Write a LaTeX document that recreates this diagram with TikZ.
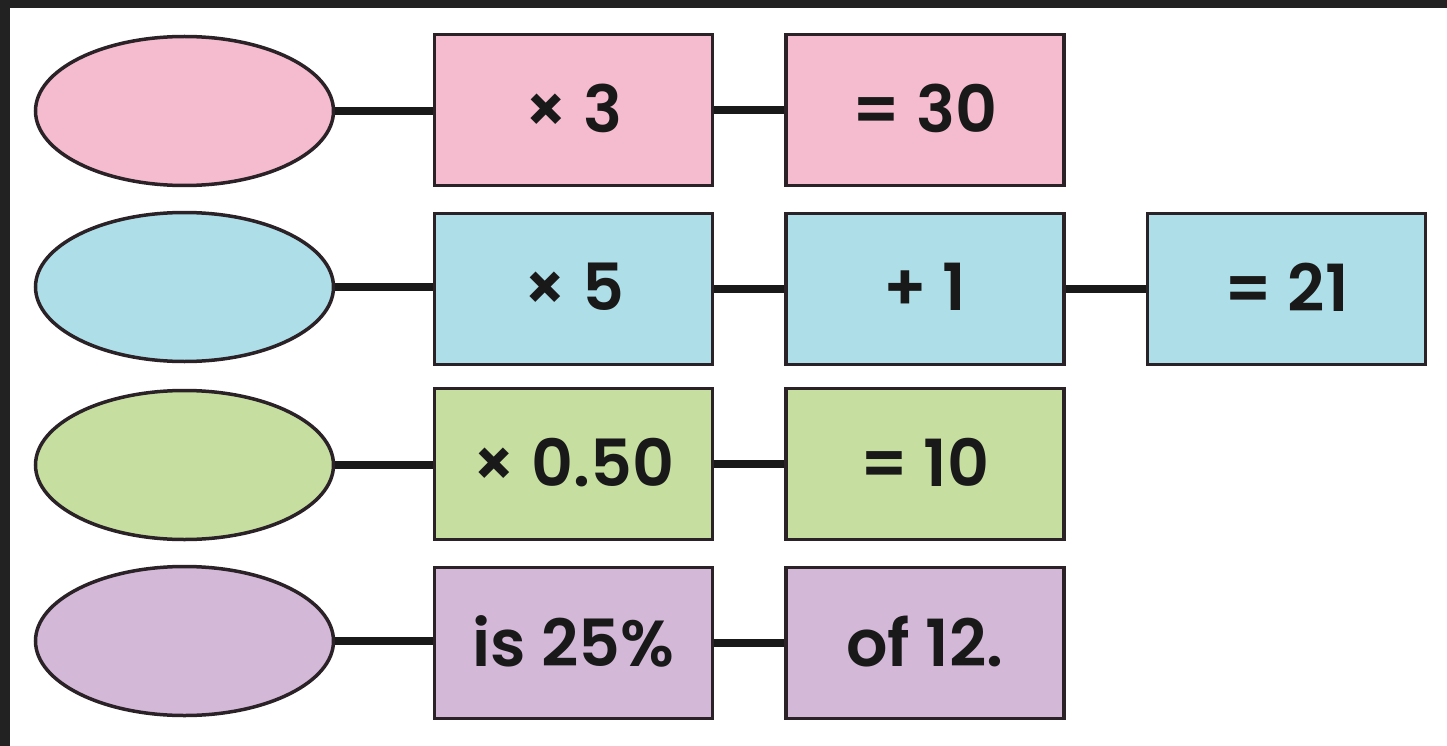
\documentclass[tikz,border=0pt]{standalone}
\usepackage{fontspec}
\setmainfont{Poppins}[BoldFont={Poppins SemiBold}]
\usetikzlibrary{shapes.geometric}
\definecolor{frame}{HTML}{222222}
\definecolor{edge}{HTML}{2B2228}
\definecolor{cpink}{HTML}{F5BBCF}
\definecolor{cblue}{HTML}{AEDFE9}
\definecolor{cgreen}{HTML}{C6DFA0}
\definecolor{cpurple}{HTML}{D3B8D8}
\tikzset{
  oval/.style={ellipse, draw=edge, line width=3.5pt, minimum width=298pt, minimum height=149pt, inner sep=0pt},
  box/.style={rectangle, draw=edge, line width=3.5pt, minimum width=278pt, minimum height=151pt, inner sep=0pt,
    font=\fontsize{65}{72}\selectfont\bfseries, text=black!90, text depth=4pt},
  link/.style={draw=black!90, line width=7.5pt}
}
\begin{document}
\begin{tikzpicture}[x=1pt,y=-1pt]
\useasboundingbox (0,0) rectangle (1447,746);
\fill[white] (0,0) rectangle (1447,746);
\fill[frame] (0,0) rectangle (1447,8);
\fill[frame] (0,0) rectangle (10,746);
% row 1
\node[oval, fill=cpink] (e1) at (184.5,111) {};
\node[box, fill=cpink] (a1) at (573.5,110) {× 3};
\node[box, fill=cpink] (b1) at (925,110) {= 30};
% row 2
\node[oval, fill=cblue] (e2) at (184.5,287) {};
\node[box, fill=cblue] (a2) at (573.5,289) {× 5};
\node[box, fill=cblue] (b2) at (925,289) {+ 1};
\node[box, fill=cblue] (c2) at (1286.5,289) {= 21};
% row 3
\node[oval, fill=cgreen] (e3) at (184.5,465) {};
\node[box, fill=cgreen] (a3) at (573.5,464) {× 0.50};
\node[box, fill=cgreen] (b3) at (925,464) {= 10};
% row 4
\node[oval, fill=cpurple] (e4) at (184.5,641) {};
\node[box, fill=cpurple] (a4) at (573.5,643) {is 25\%};
\node[box, fill=cpurple] (b4) at (925,643) {of 12.};
% connectors
\draw[link] (e1.east) -- (a1.west |- e1.east);
\draw[link] (a1.east) -- (b1.west);
\draw[link] (e2.east) -- (a2.west |- e2.east);
\draw[link] (a2.east) -- (b2.west);
\draw[link] (b2.east) -- (c2.west);
\draw[link] (e3.east) -- (a3.west |- e3.east);
\draw[link] (a3.east) -- (b3.west);
\draw[link] (e4.east) -- (a4.west |- e4.east);
\draw[link] (a4.east) -- (b4.west);
\end{tikzpicture}
\end{document}
